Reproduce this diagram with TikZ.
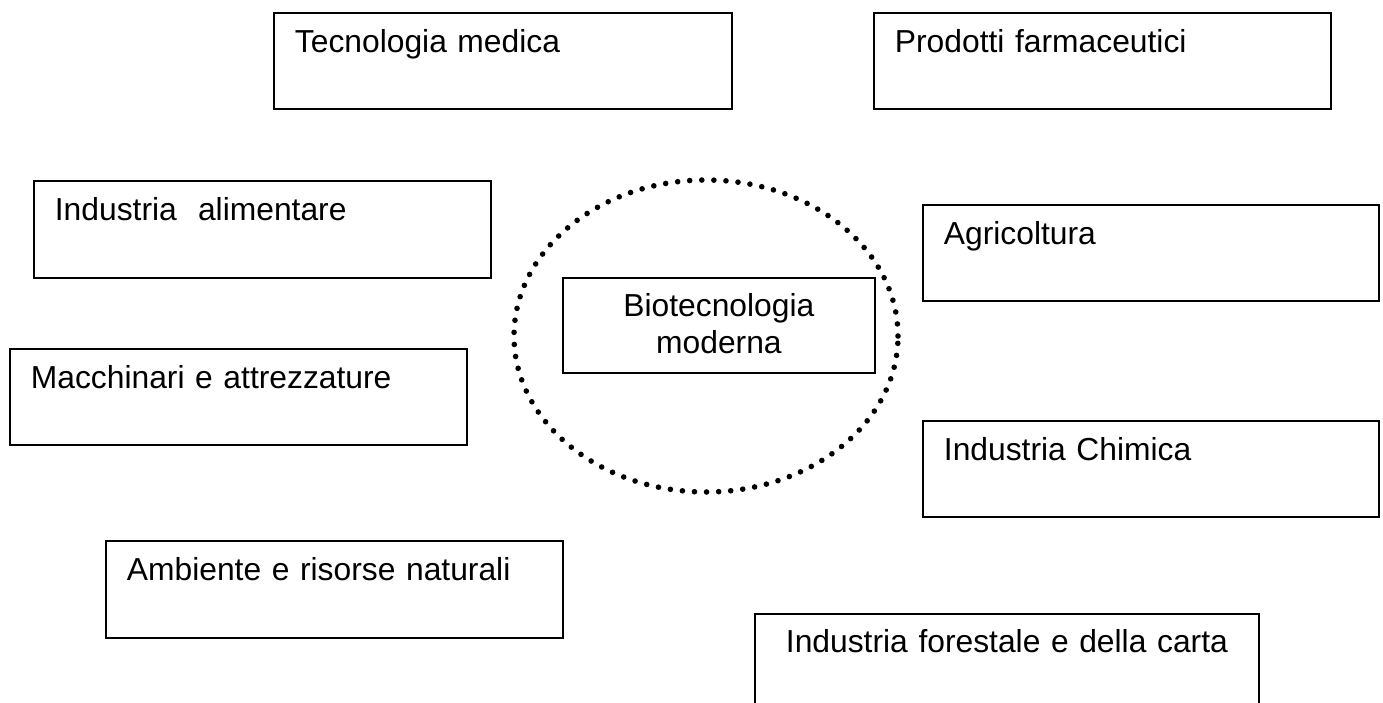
\documentclass[tikz,border=0pt]{standalone}
\usepackage{fontspec}
\setmainfont{Liberation Sans}
\usetikzlibrary{shapes.geometric}
\begin{document}
\begin{tikzpicture}[x=1pt,y=-1pt,
  box/.style={draw=black, line width=1.8pt, anchor=north west, inner xsep=21pt, inner ysep=0pt,
    align=left, text height=40pt, font=\fontsize{31.8}{37}\selectfont},
  cbox/.style={box, align=center},
  ring/.style={ellipse, draw=black, line width=5.6pt, line cap=round, dash pattern=on 0pt off 12.1pt,
    minimum width=384pt, minimum height=312pt, inner sep=0pt}]
\useasboundingbox (0,0) rectangle (1383,702);
\fill[white] (0,0) rectangle (1383,702);
\node[ring] (ring) at (706,336) {};
\node[box, text width=416pt, text depth=56pt] (tm) at (273,12) {Tecnologia medica};
\node[box, text width=415pt, text depth=56pt] (pf) at (873,12) {Prodotti farmaceutici};
\node[box, text width=415pt, text depth=57pt] (ia) at (33,180) {Industria\ \ alimentare};
\node[box, text width=414pt, text depth=56pt] (ag) at (922,204) {Agricoltura};
\node[cbox, text width=270pt, text height=39pt, text depth=56pt] (bm) at (562,277) {Biotecnologia\\moderna};
\node[box, text width=415pt, text depth=56pt] (ma) at (9,348) {Macchinari e attrezzature};
\node[box, text width=414pt, text depth=56pt] (ic) at (922,420) {Industria Chimica};
\node[box, text width=415pt, text depth=57pt] (am) at (105,540) {Ambiente e risorse naturali};
\node[cbox, text width=462pt, text height=39pt, text depth=61pt] (if) at (754,613) {Industria forestale e della carta};
\end{tikzpicture}
\end{document}
